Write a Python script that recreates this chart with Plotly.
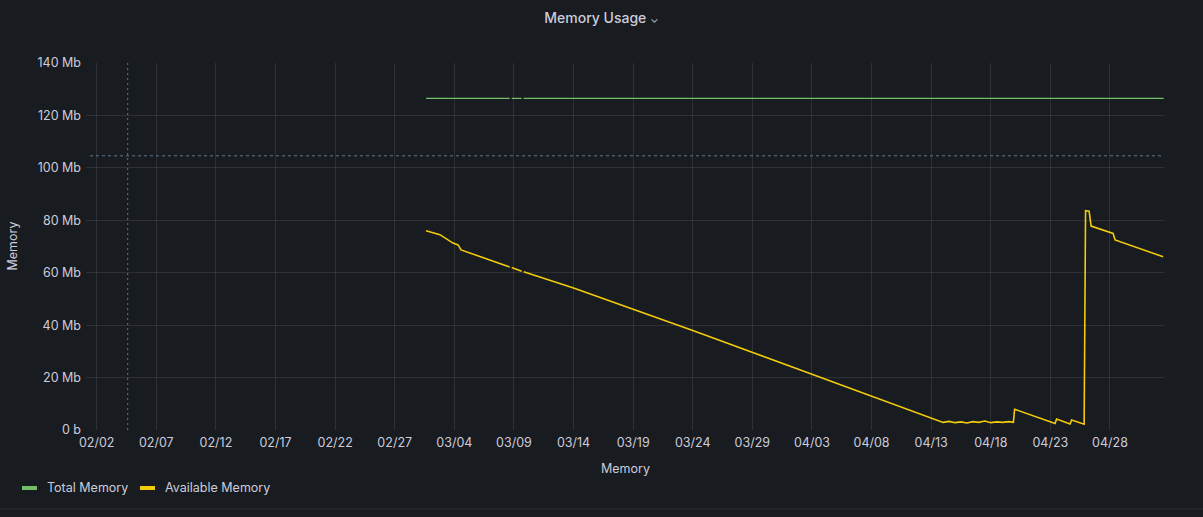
import plotly.graph_objects as go

# ---------------- data ----------------
total_time = ["2023-03-01 15:00", "2023-03-08 15:30", None, "2023-03-08 19:30",
              "2023-03-09 15:30", None, "2023-03-09 19:30", "2023-05-02 12:00"]
total_mb = [126.5, 126.5, None, 126.5, 126.5, None, 126.5, 126.5]

avail_time = [
    "2023-03-01 15:00", "2023-03-02 19:00", "2023-03-03 21:20", "2023-03-04 07:30",
    "2023-03-04 13:30", "2023-03-08 15:30", None, "2023-03-08 19:30",
    "2023-03-09 15:30", None, "2023-03-09 19:30", "2023-03-14 00:00",
    "2023-03-24 00:00", "2023-04-03 00:00", "2023-04-08 00:00", "2023-04-14 00:00",
    "2023-04-14 12:00", "2023-04-15 00:00", "2023-04-15 12:00", "2023-04-16 00:00",
    "2023-04-16 12:00", "2023-04-17 00:00", "2023-04-17 12:00", "2023-04-18 00:00",
    "2023-04-18 12:00", "2023-04-19 00:00", "2023-04-19 12:00", "2023-04-19 21:30",
    "2023-04-20 00:00", "2023-04-23 09:30", "2023-04-23 12:30", "2023-04-24 15:40",
    "2023-04-24 18:40", "2023-04-25 20:00", "2023-04-25 22:50", "2023-04-26 06:00",
    "2023-04-26 10:00", "2023-04-28 06:15", "2023-04-28 10:20", "2023-05-02 11:00",
]
avail_mb = [
    76.0, 74.5, 71.3, 70.6,
    68.7, 62.2, None, 62.0,
    60.6, None, 60.4, 54.2,
    38.0, 21.4, 13.0, 2.9,
    3.3, 2.8, 3.1, 2.7,
    3.2, 2.9, 3.4, 2.8,
    3.1, 2.9, 3.2, 2.9,
    7.9, 2.5, 4.2, 2.3,
    3.8, 2.2, 83.7, 83.5,
    77.8, 75.0, 72.5, 66.1,
]

series_names = ["Total Memory", "Available Memory"]

y_ticks = [0, 20, 40, 60, 80, 100, 120, 140]
y_labels = ["0 b", "20 Mb", "40 Mb", "60 Mb", "80 Mb", "100 Mb", "120 Mb", "140 Mb"]

crosshair_time = "2023-02-04 14:25"
crosshair_mb = 104.6

# ---------------- styling ----------------
W, H = 1203, 517
L, R, T, B = 86, 39, 63, 87
PW, PH = W - L - R, H - T - B
BG = "#181b1f"
TXT = "#ccccdc"
GRID = "rgba(204,204,220,0.12)"
GREEN = "#73bf69"
YELLOW = "#f2cc0c"
CROSS = "rgba(110,128,145,0.9)"
FONT = "Inter, Roboto, sans-serif"


def px_x(p):
    return (p - L) / PW


def px_y(p):
    return (T + PH - p) / PH


fig = go.Figure()
fig.add_trace(go.Scatter(x=total_time, y=total_mb, mode="lines", name=series_names[0],
                         line=dict(color=GREEN, width=1.2), connectgaps=False, showlegend=False))
fig.add_trace(go.Scatter(x=avail_time, y=avail_mb, mode="lines", name=series_names[1],
                         line=dict(color=YELLOW, width=1.6), connectgaps=False, showlegend=False))

fig.update_layout(
    width=W, height=H, autosize=False,
    paper_bgcolor=BG, plot_bgcolor=BG,
    margin=dict(l=L, r=R, t=T, b=B, autoexpand=False),
    font=dict(family=FONT, color=TXT, size=12),
    title=dict(text="Memory Usage <span style='font-size:11px;color:#9fa7b3'>⌄</span>",
               x=0.5, xanchor="center", y=1 - 18 / H, yanchor="middle",
               font=dict(size=14, color=TXT, family=FONT, weight=500)),
    showlegend=False,
    hovermode=False,
)

fig.update_xaxes(
    range=["2023-02-01 02:27", "2023-05-02 12:45"],
    type="date", tick0="2023-02-02", dtick=5 * 86400000, tickformat="%m/%d",
    showgrid=True, gridcolor=GRID, gridwidth=1, zeroline=False, showline=False,
    ticks="", tickfont=dict(size=12.5, color=TXT), automargin=False, ticklabelstandoff=3,
)
fig.update_yaxes(
    range=[0, 140], tickvals=y_ticks, ticktext=y_labels,
    showgrid=True, gridcolor=GRID, gridwidth=1, zeroline=False, showline=False,
    ticks="", tickfont=dict(size=12.5, color=TXT), automargin=False, ticklabelstandoff=4,
)

# axis titles
fig.add_annotation(text="Memory", xref="paper", yref="paper", x=0.5, y=px_y(468),
                   showarrow=False, xanchor="center", yanchor="middle",
                   font=dict(size=12.5, color=TXT))
fig.add_annotation(text="Memory", xref="paper", yref="paper", x=px_x(12), y=0.5,
                   showarrow=False, xanchor="center", yanchor="middle", textangle=-90,
                   font=dict(size=12.5, color=TXT))

# legend (Grafana style: short thick bars + names)
legend_x = [(22, 37, 45), (140, 155, 163)]
for (x0, x1, xt), name, col in zip(legend_x, series_names, [GREEN, YELLOW]):
    fig.add_shape(type="rect", xref="paper", yref="paper", x0=px_x(x0), x1=px_x(x1),
                  y0=px_y(490), y1=px_y(486), fillcolor=col, line=dict(width=0))
    fig.add_annotation(text=name, xref="paper", yref="paper", x=px_x(xt), y=px_y(488),
                       showarrow=False, xanchor="left", yanchor="middle",
                       font=dict(size=12.5, color=TXT))

# crosshair lines
fig.add_shape(type="line", xref="x", yref="paper", x0=crosshair_time, x1=crosshair_time, y0=0, y1=1,
              line=dict(color=CROSS, width=1, dash="2px,3px"))
fig.add_shape(type="line", xref="paper", yref="y", x0=px_x(90), x1=1, y0=crosshair_mb, y1=crosshair_mb,
              line=dict(color=CROSS, width=1, dash="3px,3px"))
# panel border bottom
fig.add_shape(type="line", xref="paper", yref="paper", x0=px_x(0), x1=px_x(W),
              y0=px_y(509), y1=px_y(509),
              line=dict(color="rgba(204,204,220,0.12)", width=1))

fig.write_html("out.html", config={"displayModeBar": False},
               post_script="document.body.style.margin='0';document.body.style.overflow='hidden';")
